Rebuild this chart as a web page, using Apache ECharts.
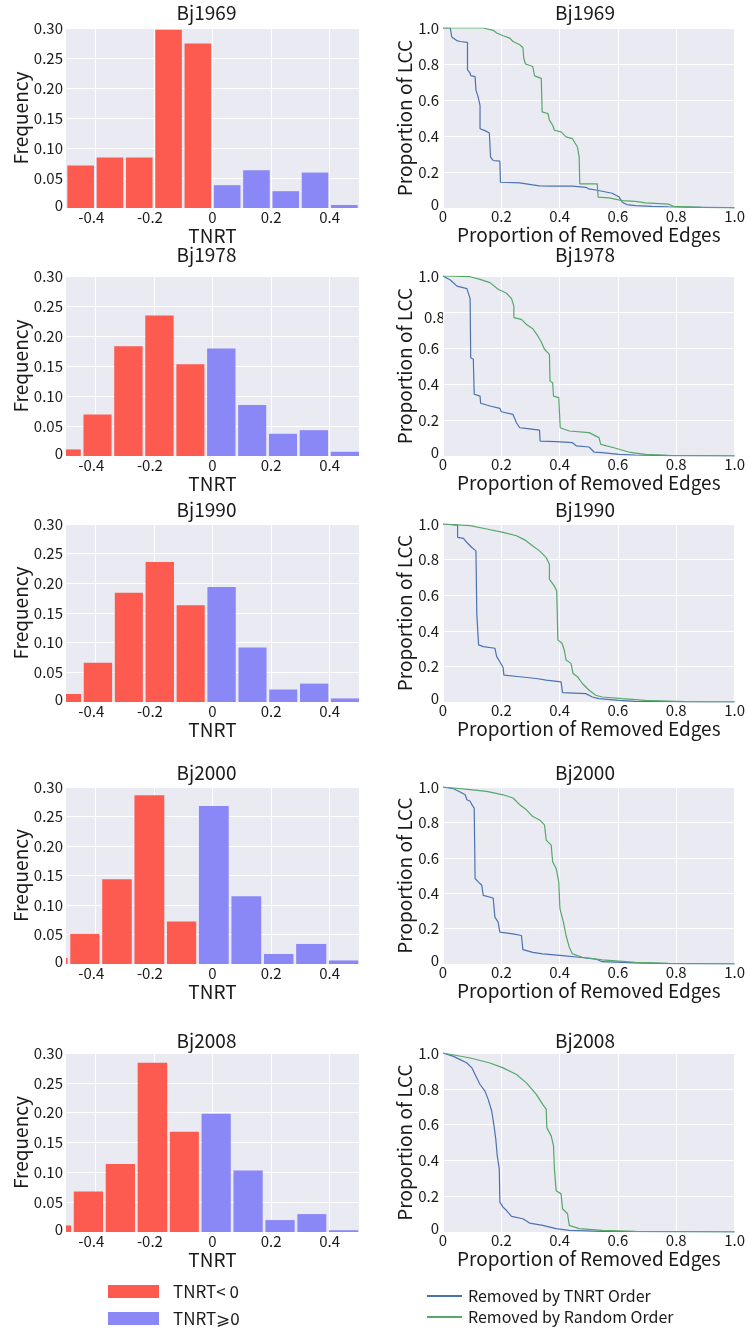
<!DOCTYPE html>
<html><head><meta charset="utf-8">
<script src="https://cdn.jsdelivr.net/npm/echarts@6/dist/echarts.min.js"></script>
<style>html,body{margin:0;padding:0;background:#fff}#c{width:748px;height:1333px}</style>
</head><body><div id="c"></div><script>
// ---------- data ----------
const panelTitles = ['Bj1969', 'Bj1978', 'Bj1990', 'Bj2000', 'Bj2008'];

const histEdges1969 = [-0.5, -0.4, -0.3, -0.2, -0.1, 0, 0.1, 0.2, 0.3, 0.4, 0.5];
const histFreq1969  = [0.071, 0.084, 0.084, 0.297, 0.274, 0.038, 0.063, 0.028, 0.059, 0.005];
const histEdges1978 = [-0.551, -0.445, -0.340, -0.234, -0.128, -0.023, 0.083, 0.188, 0.293, 0.399, 0.505];
const histFreq1978  = [0.011, 0.069, 0.183, 0.234, 0.153, 0.179, 0.085, 0.037, 0.043, 0.007];
const histEdges1990 = [-0.550, -0.444, -0.338, -0.233, -0.127, -0.022, 0.084, 0.189, 0.294, 0.400, 0.505];
const histFreq1990  = [0.0135, 0.066, 0.184, 0.236, 0.163, 0.194, 0.092, 0.021, 0.031, 0.006];
const histEdges2000 = [-0.600, -0.490, -0.381, -0.271, -0.160, -0.051, 0.060, 0.171, 0.281, 0.393, 0.502];
const histFreq2000  = [0.010, 0.051, 0.1435, 0.286, 0.072, 0.268, 0.115, 0.017, 0.034, 0.006];
const histEdges2008 = [-0.587, -0.478, -0.369, -0.260, -0.150, -0.042, 0.067, 0.176, 0.285, 0.393, 0.502];
const histFreq2008  = [0.011, 0.068, 0.114, 0.2835, 0.168, 0.198, 0.103, 0.020, 0.030, 0.003];
const histNegCount  = [5, 5, 5, 5, 5]; // number of bars drawn as TNRT< 0 in each panel

const histXTicks = [-0.4, -0.2, 0, 0.2, 0.4];
const histYTicks = [0, 0.05, 0.10, 0.15, 0.20, 0.25, 0.30];
const lccTicks   = [0, 0.2, 0.4, 0.6, 0.8, 1.0];

const tnrt1969 = [[0,1],[0.025,1],[0.03,0.95],[0.047,0.93],[0.059,0.925],[0.084,0.92],[0.084,0.767],[0.093,0.749],[0.095,0.735],[0.11,0.73],[0.113,0.655],[0.12,0.62],[0.127,0.57],[0.127,0.44],[0.144,0.43],[0.159,0.417],[0.163,0.283],[0.172,0.264],[0.195,0.26],[0.197,0.143],[0.263,0.14],[0.308,0.128],[0.331,0.123],[0.376,0.121],[0.444,0.121],[0.49,0.115],[0.50,0.106],[0.524,0.1],[0.546,0.093],[0.58,0.082],[0.603,0.063],[0.615,0.032],[0.63,0.019],[0.66,0.013],[0.717,0.009],[0.773,0.007],[0.887,0.004],[0.977,0.002],[1,0]];
const rand1969 = [[0,1],[0.138,1],[0.172,0.987],[0.184,0.972],[0.206,0.957],[0.229,0.944],[0.24,0.925],[0.263,0.907],[0.274,0.892],[0.277,0.832],[0.283,0.80],[0.308,0.786],[0.314,0.734],[0.337,0.72],[0.34,0.534],[0.36,0.525],[0.365,0.488],[0.376,0.46],[0.382,0.432],[0.405,0.423],[0.422,0.395],[0.444,0.385],[0.461,0.339],[0.467,0.283],[0.469,0.134],[0.529,0.134],[0.532,0.06],[0.569,0.056],[0.615,0.041],[0.66,0.037],[0.694,0.028],[0.773,0.022],[0.79,0.009],[0.887,0.004],[0.977,0.002],[1,0]];
const tnrt1978 = [[0,1],[0.025,0.978],[0.048,0.944],[0.082,0.93],[0.093,0.874],[0.095,0.546],[0.104,0.537],[0.107,0.343],[0.127,0.333],[0.129,0.293],[0.161,0.278],[0.195,0.265],[0.2,0.246],[0.24,0.231],[0.252,0.185],[0.263,0.157],[0.291,0.152],[0.331,0.144],[0.333,0.083],[0.388,0.08],[0.444,0.074],[0.458,0.056],[0.501,0.05],[0.518,0.022],[0.546,0.0185],[0.603,0.009],[0.66,0.0056],[0.773,0.002],[1,0]];
const rand1978 = [[0,1],[0.093,0.996],[0.127,0.981],[0.161,0.963],[0.189,0.926],[0.218,0.904],[0.235,0.874],[0.243,0.833],[0.243,0.769],[0.269,0.759],[0.286,0.731],[0.308,0.707],[0.325,0.667],[0.337,0.633],[0.348,0.593],[0.365,0.565],[0.367,0.417],[0.376,0.407],[0.379,0.333],[0.397,0.324],[0.402,0.157],[0.433,0.139],[0.501,0.130],[0.535,0.102],[0.541,0.065],[0.586,0.046],[0.637,0.022],[0.694,0.009],[0.773,0.004],[1,0]];
const tnrt1990 = [[0,1],[0.05,0.994],[0.05,0.925],[0.07,0.919],[0.082,0.896],[0.099,0.868],[0.113,0.849],[0.116,0.49],[0.121,0.481],[0.122,0.321],[0.138,0.311],[0.178,0.302],[0.184,0.255],[0.195,0.226],[0.206,0.194],[0.209,0.151],[0.263,0.142],[0.32,0.132],[0.354,0.123],[0.405,0.113],[0.41,0.053],[0.49,0.047],[0.512,0.028],[0.535,0.019],[0.603,0.009],[0.66,0.004],[0.887,0],[1,0]];
const rand1990 = [[0,1],[0.093,0.991],[0.15,0.972],[0.206,0.953],[0.252,0.934],[0.28,0.911],[0.308,0.877],[0.331,0.849],[0.354,0.811],[0.365,0.774],[0.365,0.689],[0.382,0.651],[0.39,0.623],[0.394,0.349],[0.408,0.33],[0.416,0.292],[0.422,0.236],[0.439,0.217],[0.446,0.16],[0.461,0.142],[0.478,0.104],[0.501,0.066],[0.524,0.038],[0.546,0.028],[0.615,0.019],[0.694,0.009],[0.83,0.002],[1,0]];
const tnrt2000 = [[0,1],[0.036,0.99],[0.059,0.972],[0.076,0.956],[0.082,0.928],[0.093,0.919],[0.099,0.9],[0.107,0.881],[0.11,0.483],[0.121,0.464],[0.133,0.445],[0.138,0.388],[0.172,0.373],[0.178,0.265],[0.189,0.237],[0.195,0.18],[0.24,0.17],[0.269,0.161],[0.274,0.081],[0.308,0.066],[0.342,0.057],[0.41,0.047],[0.467,0.038],[0.524,0.028],[0.546,0.013],[0.66,0.006],[0.773,0.002],[1,0]];
const rand2000 = [[0,1],[0.093,0.985],[0.15,0.975],[0.206,0.956],[0.24,0.938],[0.263,0.9],[0.286,0.871],[0.308,0.833],[0.331,0.814],[0.348,0.786],[0.354,0.70],[0.371,0.672],[0.376,0.578],[0.388,0.54],[0.397,0.464],[0.401,0.3125],[0.413,0.237],[0.422,0.161],[0.433,0.095],[0.444,0.057],[0.478,0.038],[0.546,0.023],[0.66,0.009],[0.773,0.004],[1,0]];
const tnrt2008 = [[0,1],[0.036,0.981],[0.059,0.963],[0.082,0.944],[0.099,0.917],[0.113,0.87],[0.127,0.824],[0.144,0.787],[0.155,0.741],[0.167,0.676],[0.175,0.593],[0.181,0.519],[0.186,0.426],[0.193,0.352],[0.195,0.167],[0.206,0.139],[0.218,0.12],[0.235,0.087],[0.274,0.074],[0.297,0.05],[0.342,0.037],[0.388,0.0185],[0.433,0.009],[0.546,0.004],[1,0]];
const rand2008 = [[0,1],[0.093,0.972],[0.161,0.944],[0.206,0.917],[0.252,0.88],[0.286,0.833],[0.32,0.769],[0.342,0.713],[0.354,0.685],[0.356,0.583],[0.371,0.537],[0.379,0.481],[0.382,0.352],[0.388,0.231],[0.405,0.213],[0.41,0.13],[0.427,0.102],[0.433,0.037],[0.467,0.0185],[0.546,0.009],[0.66,0.004],[1,0]];

const histEdges = [histEdges1969, histEdges1978, histEdges1990, histEdges2000, histEdges2008];
const histFreqs = [histFreq1969, histFreq1978, histFreq1990, histFreq2000, histFreq2008];
const tnrtCurves = [tnrt1969, tnrt1978, tnrt1990, tnrt2000, tnrt2008];
const randCurves = [rand1969, rand1978, rand1990, rand2000, rand2008];

// ---------- layout / style ----------
const FONT = '"Noto Sans CJK SC", "Noto Sans", sans-serif';
const TXT = '#1a1a1a';
const BG = '#EAEAF2';
const RED = '#FD5A50';
const PURPLE = '#8A87F6';
const LBLUE = '#4C72B0';
const LGREEN = '#55A868';
const LEFT_X = 66, LEFT_W = 293, RIGHT_X = 443, RIGHT_W = 294;
const rowTop = [28, 276, 524, 787, 1053];
const rowH = [180, 180, 178, 177, 179];
const titleCY = [15, 257, 512, 775, 1043];

const grids = [], xAxes = [], yAxes = [], series = [], titles = [];

function renderBar(params, api) {
  const p0 = api.coord([api.value(0), api.value(2)]);
  const p1 = api.coord([api.value(1), 0]);
  const gap = 1.35;
  const shape = echarts.graphic.clipRectByRect({
    x: p0[0] + gap, y: p0[1], width: p1[0] - p0[0] - 2 * gap, height: p1[1] - p0[1]
  }, {
    x: params.coordSys.x, y: params.coordSys.y, width: params.coordSys.width, height: params.coordSys.height
  });
  return shape && { type: 'rect', shape: shape, style: { fill: api.visual('color') } };
}

const labelBase = { color: TXT, fontSize: 15, fontFamily: FONT };
const nameBase = { color: TXT, fontSize: 19, fontFamily: FONT };

for (let r = 0; r < 5; r++) {
  // left histogram
  const gL = grids.length;
  grids.push({ left: LEFT_X, top: rowTop[r], width: LEFT_W, height: rowH[r], show: true, backgroundColor: BG, borderWidth: 0 });
  xAxes.push({
    gridIndex: gL, type: 'value', min: -0.5, max: 0.5,
    name: 'TNRT', nameLocation: 'middle', nameGap: 16, nameTextStyle: nameBase,
    axisLine: { show: false }, axisTick: { show: false, customValues: histXTicks },
    splitLine: { show: true, lineStyle: { color: '#fff', width: 1 } },
    axisLabel: Object.assign({}, labelBase, {
      margin: 2, customValues: histXTicks,
      formatter: v => v === 0 ? '0' : (v < 0 ? '{n|' + v.toFixed(1) + '}' : v.toFixed(1)),
      rich: { n: { fontSize: 15, fontFamily: FONT, color: TXT, padding: [0, 8, 0, 0] } }
    })
  });
  yAxes.push({
    gridIndex: gL, type: 'value', min: 0, max: 0.3, interval: 0.05,
    name: 'Frequency', nameLocation: 'middle', nameGap: 35, nameTextStyle: nameBase,
    axisLine: { show: false }, axisTick: { show: false },
    splitLine: { show: true, lineStyle: { color: '#fff', width: 1 } },
    axisLabel: Object.assign({}, labelBase, {
      margin: 3,
      formatter: v => v === 0 ? '{z|0}' : v.toFixed(2),
      rich: { z: { fontSize: 15, fontFamily: FONT, color: TXT, padding: [0, 0, 6, 0] } }
    })
  });
  const neg = [], pos = [];
  const e = histEdges[r], f = histFreqs[r];
  for (let i = 0; i < f.length; i++) {
    (i < histNegCount[r] ? neg : pos).push([e[i], e[i + 1], f[i]]);
  }
  [['TNRT< 0', RED, neg], ['TNRT⩾0', PURPLE, pos]].forEach(([nm, col, d]) => {
    series.push({
      type: 'custom', name: nm, color: col, xAxisIndex: gL, yAxisIndex: gL,
      renderItem: renderBar, encode: { x: [0, 1], y: 2 }, data: d, clip: true, silent: true
    });
  });
  titles.push({ text: panelTitles[r], left: LEFT_X + LEFT_W / 2 - 6, top: titleCY[r] - 12, textAlign: 'center', padding: 0,
    textStyle: { fontSize: 19, fontWeight: 'normal', color: TXT, fontFamily: FONT } });

  // right LCC curves
  const gR = grids.length;
  grids.push({ left: RIGHT_X, top: rowTop[r], width: RIGHT_W, height: rowH[r], show: true, backgroundColor: BG, borderWidth: 0 });
  xAxes.push({
    gridIndex: gR, type: 'value', min: 0, max: 1, interval: 0.2,
    name: 'Proportion of Removed Edges', nameLocation: 'middle', nameGap: 17, nameTextStyle: nameBase,
    axisLine: { show: false }, axisTick: { show: false },
    splitLine: { show: true, lineStyle: { color: '#fff', width: 1 } },
    axisLabel: Object.assign({}, labelBase, { margin: 1, formatter: v => v === 0 ? '0' : v.toFixed(1) })
  });
  yAxes.push({
    gridIndex: gR, type: 'value', min: 0, max: 1, interval: 0.2,
    name: 'Proportion of LCC', nameLocation: 'middle', nameGap: 26, nameTextStyle: nameBase,
    axisLine: { show: false }, axisTick: { show: false },
    splitLine: { show: true, lineStyle: { color: '#fff', width: 1 } },
    axisLabel: Object.assign({}, labelBase, {
      margin: 4,
      formatter: v => v === 0 ? '{z|0}' : ((r === 1 && Math.abs(v - 0.8) < 1e-9) ? '' : v.toFixed(1)),
      rich: { z: { fontSize: 15, fontFamily: FONT, color: TXT, padding: [0, 0, 8, 0] } }
    })
  });
  series.push({ type: 'line', name: 'Removed by TNRT Order', color: LBLUE, xAxisIndex: gR, yAxisIndex: gR,
    data: tnrtCurves[r], showSymbol: false, symbol: 'none', lineStyle: { color: LBLUE, width: 1.2 }, silent: true, animation: false });
  series.push({ type: 'line', name: 'Removed by Random Order', color: LGREEN, xAxisIndex: gR, yAxisIndex: gR,
    data: randCurves[r], showSymbol: false, symbol: 'none', lineStyle: { color: LGREEN, width: 1.2 }, silent: true, animation: false });
  titles.push({ text: panelTitles[r], left: RIGHT_X + RIGHT_W / 2 - 5, top: titleCY[r] - 12, textAlign: 'center', padding: 0,
    textStyle: { fontSize: 19, fontWeight: 'normal', color: TXT, fontFamily: FONT } });
}

const option = {
  animation: false,
  backgroundColor: '#fff',
  title: titles,
  grid: grids,
  xAxis: xAxes,
  yAxis: yAxes,
  series: series,
  legend: [
    { left: 108, top: 1283, orient: 'vertical', padding: 0, icon: 'rect', itemWidth: 51, itemHeight: 13, itemGap: 10,
      selectedMode: false, data: ['TNRT< 0', 'TNRT⩾0'],
      textStyle: { color: TXT, fontSize: 17, fontFamily: FONT, padding: [0, 0, 0, 9] } },
    { left: 427, top: 1288, orient: 'vertical', padding: 0, icon: 'rect', itemWidth: 35, itemHeight: 2, itemGap: 5,
      selectedMode: false, data: ['Removed by TNRT Order', 'Removed by Random Order'],
      textStyle: { color: TXT, fontSize: 16, fontFamily: FONT, padding: [0, 0, 0, 1] } }
  ],
  graphic: [
    { type: 'text', left: 424, top: 310, silent: true,
      style: { text: '0.8', fontSize: 15, fontFamily: FONT, fill: TXT } }
  ]
};

const chart = echarts.init(document.getElementById('c'), null, { renderer: 'canvas' });
chart.setOption(option);
</script></body></html>
